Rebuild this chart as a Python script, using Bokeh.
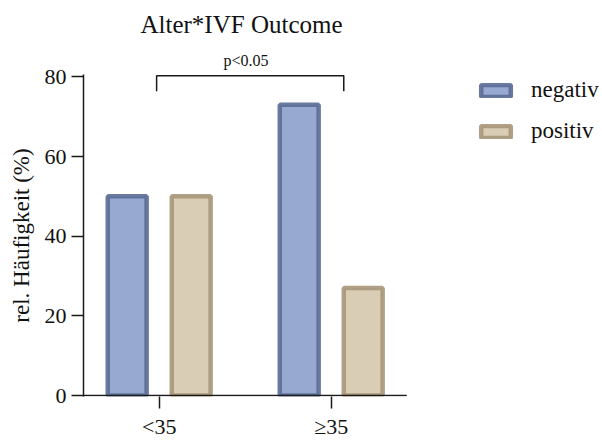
from bokeh.plotting import figure
from bokeh.models import ColumnDataSource, FixedTicker, Legend, LegendItem, Title
from bokeh.embed import file_html
from bokeh.resources import INLINE

# ---- data ----
categories = ["<35", "≥35"]
negativ = [50, 73]
positiv = [50, 27]
y_ticks = [0, 20, 40, 60, 80]
series_names = ["negativ", "positiv"]

FONT = "Liberation Serif"
NEG_FILL, NEG_LINE = "#97A9D1", "#5A6C93"
POS_FILL, POS_LINE = "#D9CDB5", "#A69679"
INK = "#1a1a1a"

idx = list(range(len(categories)))
off = 0.186
bw = 0.226
X0, X_AXIS_END, X1 = -0.44, 1.439, 2.577

src = ColumnDataSource(dict(
    xn=[i - off for i in idx], xp=[i + off for i in idx],
    neg=negativ, pos=positiv))

p = figure(width=602, height=441, output_backend="svg", toolbar_location=None,
           x_range=(X0, X1), y_range=(-0.25, 80.6),
           min_border_left=83, min_border_right=0, min_border_top=74,
           min_border_bottom=41, title=None)
p.outline_line_color = None
p.grid.visible = False
p.background_fill_color = "white"
p.border_fill_color = "white"

r_neg = p.vbar(x="xn", top="neg", width=bw, source=src, fill_color=NEG_FILL,
               line_color=NEG_LINE, line_width=4.5, line_alpha=0.9)
r_pos = p.vbar(x="xp", top="pos", width=bw, source=src, fill_color=POS_FILL,
               line_color=POS_LINE, line_width=4.5, line_alpha=0.9)

# x axis line drawn only under the bars
p.line(x=[X0, X_AXIS_END], y=[0, 0], line_color=INK, line_width=1.5)

# axes
p.yaxis.ticker = FixedTicker(ticks=y_ticks)
p.xaxis.ticker = FixedTicker(ticks=idx)
p.xaxis.major_label_overrides = {i: c for i, c in zip(idx, categories)}
for ax in (p.xaxis[0], p.yaxis[0]):
    ax.axis_line_width = 1.5
    ax.axis_line_color = INK
    ax.major_tick_line_width = 1.5
    ax.major_tick_line_color = INK
    ax.major_tick_out = 12
    ax.major_tick_in = 0
    ax.minor_tick_line_color = None
    ax.major_label_text_font = FONT
    ax.major_label_text_font_size = "22px"
    ax.major_label_text_color = "#111111"
    ax.major_label_standoff = 5
p.xaxis.axis_line_color = None
p.yaxis.axis_label = "rel. Häufigkeit (%)"
p.yaxis.axis_label_text_font = FONT
p.yaxis.axis_label_text_font_size = "23px"
p.yaxis.axis_label_text_font_style = "normal"
p.yaxis.axis_label_text_color = "#111111"
p.yaxis.axis_label_standoff = 8

# significance bracket
p.line(x=[-0.015, -0.015, 1.073, 1.073], y=[76.4, 80.3, 80.3, 76.4],
       line_color=INK, line_width=1.5)

# p-value (nearest to frame) and title above it
p.add_layout(Title(text="p<0.05", align="left", text_font=FONT,
                   text_font_size="16px", text_font_style="normal",
                   text_color="#111111", standoff=12, offset=140), "above")
p.add_layout(Title(text="Alter*IVF Outcome", align="left", text_font=FONT,
                   text_font_size="25px", text_font_style="normal",
                   text_color="#111111", standoff=11, offset=57), "above")

legend = Legend(items=[LegendItem(label=series_names[0], renderers=[r_neg]),
                       LegendItem(label=series_names[1], renderers=[r_pos])],
                location=(394, 252), padding=0, margin=0, spacing=15,
                glyph_width=37, glyph_height=15, label_height=25,
                label_standoff=17, border_line_color=None,
                background_fill_alpha=0, label_text_font=FONT,
                label_text_font_size="23px", label_text_color="#111111")
p.add_layout(legend, "center")

open("out.html", "w").write(file_html(p, INLINE))
